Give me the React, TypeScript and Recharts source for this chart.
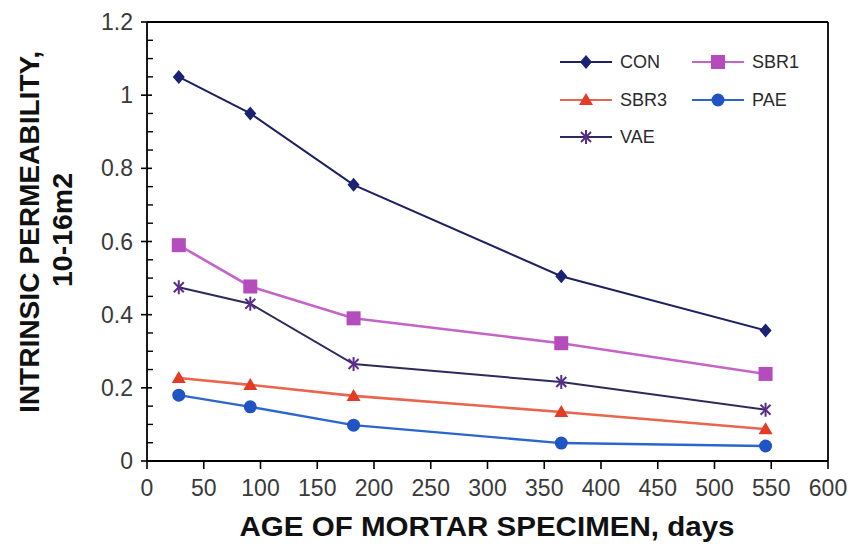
import React from "react";
import { LineChart, Line, XAxis, YAxis, Label, ReferenceLine } from "recharts";

const days = [28, 91, 182, 365, 545];
const conValues = [1.05, 0.95, 0.755, 0.505, 0.357];
const sbr1Values = [0.59, 0.477, 0.39, 0.322, 0.238];
const sbr3Values = [0.227, 0.208, 0.178, 0.134, 0.087];
const paeValues = [0.18, 0.148, 0.098, 0.049, 0.041];
const vaeValues = [0.475, 0.43, 0.265, 0.216, 0.14];
const xTicks = [0, 50, 100, 150, 200, 250, 300, 350, 400, 450, 500, 550, 600];
const yTicks = [0, 0.05, 0.1, 0.15, 0.2, 0.25, 0.3, 0.35, 0.4, 0.45, 0.5, 0.55, 0.6, 0.65, 0.7, 0.75, 0.8, 0.85, 0.9, 0.95, 1, 1.05, 1.1, 1.15, 1.2];
const xMax = 600;
const yMax = 1.2;

const data = days.map((d, i) => ({
  day: d,
  CON: conValues[i],
  SBR1: sbr1Values[i],
  SBR3: sbr3Values[i],
  PAE: paeValues[i],
  VAE: vaeValues[i],
}));

const FONT = "'Liberation Sans', Arial, sans-serif";

const C = {
  CON: { line: "#1c2160", mark: "#1a2272" },
  SBR1: { line: "#c464c8", mark: "#b44cbc" },
  SBR3: { line: "#e8664e", mark: "#e23c26" },
  PAE: { line: "#2c66cc", mark: "#1f54c2" },
  VAE: { line: "#2c2c5c", mark: "#5a2c8c" },
};

function shape(kind: string, cx: number, cy: number, color: string) {
  switch (kind) {
    case "diamond":
      return <polygon points={`${cx},${cy - 7} ${cx + 6},${cy} ${cx},${cy + 7} ${cx - 6},${cy}`} fill={color} />;
    case "square":
      return <rect x={cx - 7} y={cy - 7} width={14} height={14} fill={color} />;
    case "triangle":
      return <polygon points={`${cx},${cy - 7} ${cx + 7},${cy + 5} ${cx - 7},${cy + 5}`} fill={color} />;
    case "circle":
      return <circle cx={cx} cy={cy} r={6.5} fill={color} />;
    case "star":
      return (
        <g stroke={color} strokeWidth={2}>
          <line x1={cx - 5} y1={cy - 5} x2={cx + 5} y2={cy + 5} />
          <line x1={cx - 5} y1={cy + 5} x2={cx + 5} y2={cy - 5} />
          <line x1={cx} y1={cy - 7} x2={cx} y2={cy + 7} />
        </g>
      );
  }
  return null;
}

const makeDot = (kind: string, color: string) => (props: any) => {
  const { cx, cy, index } = props;
  if (cx == null || cy == null) return <g key={index} />;
  return <g key={index}>{shape(kind, cx, cy, color)}</g>;
};

const YTick = (props: any) => {
  const { x, y, payload } = props;
  const v = payload.value;
  const major = Math.abs(v * 5 - Math.round(v * 5)) < 1e-6;
  return (
    <g>
      {major ? (
        <line x1={x - 6} y1={y} x2={x + 5} y2={y} stroke="#000" strokeWidth={1.6} />
      ) : (
        <line x1={x} y1={y} x2={x + 6} y2={y} stroke="#000" strokeWidth={1.4} />
      )}
      {major && (
        <text x={x - 14} y={y} dy="0.35em" textAnchor="end" fontSize={23} fill="#3a3a3a" fontFamily={FONT}>
          {Number(v.toFixed(2)).toString()}
        </text>
      )}
    </g>
  );
};

const XTick = (props: any) => {
  const { x, y, payload } = props;
  return (
    <g>
      <line x1={x} y1={y} x2={x} y2={y + 8} stroke="#000" strokeWidth={1.6} />
      <text x={x} y={y + 35} textAnchor="middle" fontSize={23} fill="#3a3a3a" fontFamily={FONT}>
        {payload.value}
      </text>
    </g>
  );
};

const legendItems = [
  { name: "CON", kind: "diamond", col: 0, row: 0 },
  { name: "SBR1", kind: "square", col: 1, row: 0 },
  { name: "SBR3", kind: "triangle", col: 0, row: 1 },
  { name: "PAE", kind: "circle", col: 1, row: 1 },
  { name: "VAE", kind: "star", col: 0, row: 2 },
];

const LegendBox = () => (
  <svg width={270} height={115} style={{ position: "absolute", left: 542, top: 37 }}>
    {legendItems.map((it) => {
      const c = (C as any)[it.name];
      const x0 = it.col === 0 ? 10 : 142;
      const y = [17, 55, 92][it.row];
      return (
        <g key={it.name}>
          <line x1={x0} y1={y} x2={x0 + 52} y2={y} stroke={c.line} strokeWidth={2.2} />
          {shape(it.kind, x0 + 26, y, c.mark)}
          <text x={x0 + 60} y={y} dy="0.36em" fontSize={18} fill="#2a2a2a" fontFamily={FONT}>
            {it.name}
          </text>
        </g>
      );
    })}
  </svg>
);

const YLabel = () => (
  <g>
    <text
      transform="translate(22,224) rotate(-90)"
      textAnchor="middle"
      dominantBaseline="central"
      fontSize={27}
      fontWeight="bold"
      fill="#111"
      fontFamily={FONT}
      textLength={362}
      lengthAdjust="spacingAndGlyphs"
    >
      INTRINSIC PERMEABILITY,
    </text>
    <text
      transform="translate(55,222) rotate(-90)"
      textAnchor="middle"
      dominantBaseline="central"
      fontSize={27}
      fontWeight="bold"
      fill="#111"
      fontFamily={FONT}
      textLength={114}
      lengthAdjust="spacingAndGlyphs"
    >
      10-16m2
    </text>
  </g>
);

const XLabel = () => (
  <text
    x={479}
    y={519}
    textAnchor="middle"
    dominantBaseline="central"
    fontSize={27}
    fontWeight="bold"
    fill="#111"
    fontFamily={FONT}
    textLength={495}
    lengthAdjust="spacingAndGlyphs"
  >
    AGE OF MORTAR SPECIMEN, days
  </text>
);

const series = [
  { key: "CON", kind: "diamond", w: 2 },
  { key: "SBR1", kind: "square", w: 2.6 },
  { key: "VAE", kind: "star", w: 2 },
  { key: "SBR3", kind: "triangle", w: 2.6 },
  { key: "PAE", kind: "circle", w: 2.4 },
];

const frameLine = { stroke: "#000", strokeWidth: 1.8 };

export default function App() {
  return (
    <div style={{ width: 847, height: 539, background: "#fff", position: "relative" }}>
      <LineChart width={847} height={539} data={data} margin={{ top: 14, right: 27, left: 79, bottom: 46 }}>
        <XAxis
          dataKey="day"
          type="number"
          domain={[0, xMax]}
          ticks={xTicks}
          interval={0}
          tickSize={0}
          tickMargin={0}
          tickLine={false}
          tick={<XTick />}
          axisLine={frameLine}
          height={40}
        >
          <Label content={<XLabel />} />
        </XAxis>
        <YAxis
          type="number"
          domain={[0, yMax]}
          ticks={yTicks}
          interval={0}
          tickSize={0}
          tickMargin={0}
          tickLine={false}
          tick={<YTick />}
          axisLine={frameLine}
          width={60}
        >
          <Label content={<YLabel />} />
        </YAxis>
        <ReferenceLine y={yMax} stroke="#000" strokeWidth={1.8} />
        <ReferenceLine x={xMax} stroke="#000" strokeWidth={1.8} />
        {series.map((s) => (
          <Line
            key={s.key}
            dataKey={s.key}
            type="linear"
            stroke={(C as any)[s.key].line}
            strokeWidth={s.w}
            dot={makeDot(s.kind, (C as any)[s.key].mark)}
            activeDot={false}
            isAnimationActive={false}
          />
        ))}
      </LineChart>
      <LegendBox />
    </div>
  );
}
